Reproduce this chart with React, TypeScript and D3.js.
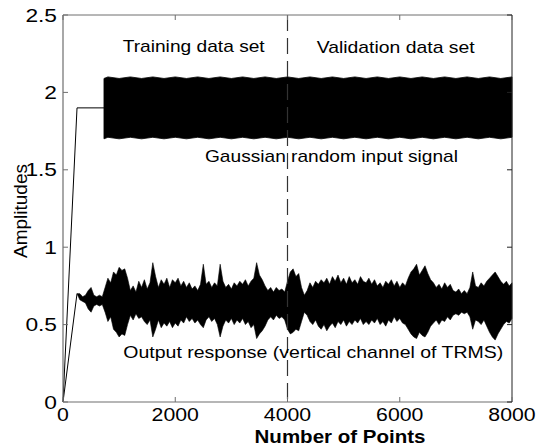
import React from 'react';
import * as d3 from 'd3';

// ---- Data ----
const X_TICKS = [0, 2000, 4000, 6000, 8000];
const Y_TICKS = [0, 0.5, 1, 1.5, 2, 2.5];
const X_TICK_LABELS = ['0', '2000', '4000', '6000', '8000'];
const Y_TICK_LABELS = ['0', '0.5', '1', '1.5', '2', '2.5'];

// Input signal: ramp, hold, then dense random band (upper / lower envelope)
const INPUT_RAMP_X = [0, 250, 730];
const INPUT_RAMP_Y = [0, 1.9, 1.9];
const INPUT_BAND_X = [730, 800, 1000, 1200, 1400, 1600, 1800, 2000, 2200, 2400, 2600, 2800, 3000, 3200, 3400, 3600, 3800, 4000, 4200, 4400, 4600, 4800, 5000, 5200, 5400, 5600, 5800, 6000, 6200, 6400, 6600, 6800, 7000, 7200, 7400, 7600, 7800, 8000];
const INPUT_UPPER = [2.09, 2.1, 2.09, 2.1, 2.09, 2.1, 2.09, 2.1, 2.09, 2.1, 2.09, 2.1, 2.09, 2.1, 2.09, 2.1, 2.09, 2.1, 2.09, 2.1, 2.09, 2.1, 2.09, 2.1, 2.09, 2.1, 2.09, 2.1, 2.09, 2.1, 2.09, 2.1, 2.09, 2.1, 2.09, 2.1, 2.09, 2.1];
const INPUT_LOWER = [1.7, 1.71, 1.7, 1.71, 1.7, 1.71, 1.7, 1.71, 1.7, 1.71, 1.7, 1.71, 1.7, 1.71, 1.7, 1.71, 1.7, 1.71, 1.7, 1.71, 1.7, 1.71, 1.7, 1.71, 1.7, 1.71, 1.7, 1.71, 1.7, 1.71, 1.7, 1.71, 1.7, 1.71, 1.7, 1.71, 1.7, 1.71];

// Output response: ramp then oscillating band (upper / lower envelope)
const OUTPUT_RAMP_X = [0, 250];
const OUTPUT_RAMP_Y = [0, 0.7];
const OUTPUT_X = [
  250, 300, 350, 400, 450, 500, 550, 600, 650, 700,
  750, 800, 850, 900, 950, 1000, 1050, 1100, 1150, 1200,
  1250, 1300, 1350, 1400, 1450, 1500, 1550, 1600, 1650, 1700,
  1750, 1800, 1850, 1900, 1950, 2000, 2050, 2100, 2150, 2200,
  2250, 2300, 2350, 2400, 2450, 2500, 2550, 2600, 2650, 2700,
  2750, 2800, 2850, 2900, 2950, 3000, 3050, 3100, 3150, 3200,
  3250, 3300, 3350, 3400, 3450, 3500, 3550, 3600, 3650, 3700,
  3750, 3800, 3850, 3900, 3950, 4000, 4050, 4100, 4150, 4200,
  4250, 4300, 4350, 4400, 4450, 4500, 4550, 4600, 4650, 4700,
  4750, 4800, 4850, 4900, 4950, 5000, 5050, 5100, 5150, 5200,
  5250, 5300, 5350, 5400, 5450, 5500, 5550, 5600, 5650, 5700,
  5750, 5800, 5850, 5900, 5950, 6000, 6050, 6100, 6150, 6200,
  6250, 6300, 6350, 6400, 6450, 6500, 6550, 6600, 6650, 6700,
  6750, 6800, 6850, 6900, 6950, 7000, 7050, 7100, 7150, 7200,
  7250, 7300, 7350, 7400, 7450, 7500, 7550, 7600, 7650, 7700,
  7750, 7800, 7850, 7900, 7950, 8000,
];
const OUTPUT_UPPER = [
  0.7, 0.7, 0.68, 0.69, 0.72, 0.74, 0.69, 0.68, 0.69, 0.68,
  0.74, 0.8, 0.77, 0.84, 0.82, 0.87, 0.85, 0.86, 0.8, 0.72,
  0.75, 0.71, 0.78, 0.74, 0.79, 0.73, 0.77, 0.9, 0.81, 0.74,
  0.79, 0.76, 0.8, 0.74, 0.79, 0.77, 0.8, 0.75, 0.78, 0.74,
  0.77, 0.73, 0.75, 0.72, 0.76, 0.89, 0.76, 0.78, 0.74, 0.77,
  0.75, 0.89, 0.78, 0.74, 0.76, 0.73, 0.77, 0.75, 0.78, 0.76,
  0.79, 0.75, 0.78, 0.8, 0.9, 0.82, 0.79, 0.75, 0.72, 0.74,
  0.71, 0.74, 0.72, 0.73, 0.71, 0.78, 0.84, 0.86, 0.81, 0.83,
  0.74, 0.69, 0.72, 0.77, 0.74, 0.78, 0.76, 0.79, 0.77, 0.8,
  0.76, 0.81, 0.78, 0.82, 0.77, 0.8, 0.76, 0.81, 0.77, 0.79,
  0.76, 0.81, 0.78, 0.77, 0.8, 0.76, 0.79, 0.75, 0.77, 0.74,
  0.78, 0.76, 0.79, 0.75, 0.78, 0.74, 0.77, 0.75, 0.8, 0.84,
  0.86, 0.89, 0.82, 0.85, 0.88, 0.83, 0.79, 0.77, 0.74, 0.76,
  0.73, 0.77, 0.74, 0.76, 0.72, 0.71, 0.73, 0.7, 0.72, 0.7,
  0.74, 0.84, 0.75, 0.74, 0.77, 0.75, 0.78, 0.8, 0.82, 0.84,
  0.81, 0.78, 0.76, 0.78, 0.75, 0.77,
];
const OUTPUT_LOWER = [
  0.7, 0.66, 0.65, 0.64, 0.6, 0.58, 0.62, 0.63, 0.62, 0.63,
  0.58, 0.52, 0.55, 0.47, 0.45, 0.42, 0.44, 0.43, 0.5, 0.56,
  0.53, 0.57, 0.54, 0.55, 0.52, 0.5, 0.53, 0.42, 0.47, 0.53,
  0.48, 0.51, 0.49, 0.52, 0.48, 0.51, 0.49, 0.53, 0.51, 0.55,
  0.52, 0.54, 0.51, 0.53, 0.5, 0.48, 0.53, 0.55, 0.52, 0.54,
  0.5, 0.42, 0.49, 0.53, 0.51, 0.54, 0.5, 0.53, 0.51, 0.54,
  0.5, 0.52, 0.48, 0.5, 0.41, 0.44, 0.46, 0.49, 0.53, 0.55,
  0.53, 0.56, 0.54, 0.55, 0.53, 0.47, 0.44, 0.45, 0.47, 0.46,
  0.52, 0.58, 0.56, 0.52, 0.5, 0.53, 0.49, 0.47, 0.5, 0.46,
  0.49, 0.51, 0.48, 0.52, 0.5, 0.53, 0.49, 0.52, 0.5, 0.53,
  0.51, 0.54, 0.5, 0.52, 0.5, 0.53, 0.51, 0.54, 0.5, 0.52,
  0.49, 0.53, 0.51, 0.55, 0.52, 0.54, 0.51, 0.5, 0.47, 0.44,
  0.42, 0.41, 0.45, 0.43, 0.42, 0.45, 0.49, 0.51, 0.53, 0.5,
  0.53, 0.52, 0.55, 0.53, 0.56, 0.57, 0.56, 0.58, 0.57, 0.58,
  0.55, 0.47, 0.53, 0.52, 0.5, 0.53, 0.49, 0.45, 0.42, 0.4,
  0.44, 0.47, 0.5, 0.52, 0.51, 0.54,
];

const SPLIT_X = 4000;

const FONT = '"Liberation Sans", Arial, Helvetica, sans-serif';

export default function App() {
  const W = 550;
  const H = 446;
  const left = 63, right = 512, top = 15, bottom = 402;

  const x = d3.scaleLinear().domain([0, 8000]).range([left, right]);
  const y = d3.scaleLinear().domain([0, 2.5]).range([bottom, top]);

  const line = d3.line<[number, number]>().x((d) => x(d[0])).y((d) => y(d[1]));
  const area = d3
    .area<[number, number, number]>()
    .x((d) => x(d[0]))
    .y0((d) => y(d[2]))
    .y1((d) => y(d[1]));

  const inRamp = line(INPUT_RAMP_X.map((v, i) => [v, INPUT_RAMP_Y[i]]));
  const inBand = area(INPUT_BAND_X.map((v, i) => [v, INPUT_UPPER[i], INPUT_LOWER[i]]));
  const outRamp = line(OUTPUT_RAMP_X.map((v, i) => [v, OUTPUT_RAMP_Y[i]]));
  const outBand = area(OUTPUT_X.map((v, i) => [v, OUTPUT_UPPER[i], OUTPUT_LOWER[i]]));

  const axisGray = '#6e6e6e';
  const tickLen = 5;

  return (
    <svg
      width={W}
      height={H}
      style={{ position: 'absolute', left: 0, top: 0, background: '#fff' }}
      fontFamily={FONT}
    >
      <rect x={0} y={0} width={W} height={H} fill="#fff" />

      {/* signals */}
      <path d={inRamp || ''} fill="none" stroke="#000" strokeWidth={1} />
      <path d={inBand || ''} fill="#000" stroke="#000" strokeWidth={0.8} />
      <path d={outRamp || ''} fill="none" stroke="#000" strokeWidth={1} />
      <path d={outBand || ''} fill="#000" stroke="#000" strokeWidth={0.6} />

      {/* split line */}
      <line
        x1={x(SPLIT_X)}
        x2={x(SPLIT_X)}
        y1={y(2.5)}
        y2={y(0)}
        stroke="#333"
        strokeWidth={1.2}
        strokeDasharray="16,7"
      />

      {/* frame */}
      <line x1={left} x2={right} y1={top} y2={top} stroke={axisGray} strokeWidth={1} />
      <line x1={left} x2={right} y1={bottom} y2={bottom} stroke={axisGray} strokeWidth={1.2} />
      <line x1={left} x2={left} y1={top} y2={bottom} stroke={axisGray} strokeWidth={1.2} />
      <line x1={right} x2={right} y1={top} y2={bottom} stroke="#222" strokeWidth={1} />

      {/* ticks */}
      {X_TICKS.map((t) => (
        <g key={'xt' + t}>
          <line x1={x(t)} x2={x(t)} y1={bottom} y2={bottom - tickLen} stroke={axisGray} />
          <line x1={x(t)} x2={x(t)} y1={top} y2={top + tickLen} stroke={axisGray} />
        </g>
      ))}
      {Y_TICKS.map((t) => (
        <g key={'yt' + t}>
          <line x1={left} x2={left + tickLen} y1={y(t)} y2={y(t)} stroke={axisGray} />
          <line x1={right} x2={right - tickLen} y1={y(t)} y2={y(t)} stroke="#222" />
        </g>
      ))}

      {/* tick labels */}
      {X_TICKS.map((t, i) => (
        <g key={'xl' + t} transform={`translate(${x(t)},421) scale(1.12,1)`}>
          <text textAnchor="middle" fontSize={19} fill="#000">
            {X_TICK_LABELS[i]}
          </text>
        </g>
      ))}
      {Y_TICKS.map((t, i) => (
        <g key={'yl' + t} transform={`translate(57,${y(t) + 6.5}) scale(1.3,1)`}>
          <text textAnchor="end" fontSize={17.5} fill="#000">
            {Y_TICK_LABELS[i]}
          </text>
        </g>
      ))}

      {/* axis titles */}
      <g transform="translate(340,443) scale(1.08,1)">
        <text textAnchor="middle" fontSize={19} fontWeight="bold" fill="#000">
          Number of Points
        </text>
      </g>
      <g transform="translate(27,211) rotate(-90)">
        <text textAnchor="middle" fontSize={19} fill="#000">
          Amplitudes
        </text>
      </g>

      {/* annotations */}
      <text x={122.7} y={51.5} fontSize={17} textLength={142} lengthAdjust="spacingAndGlyphs" fill="#000">
        Training data set
      </text>
      <text x={316.7} y={52.5} fontSize={17} textLength={158} lengthAdjust="spacingAndGlyphs" fill="#000">
        Validation data set
      </text>
      <text x={205} y={161.7} fontSize={17} textLength={253} lengthAdjust="spacingAndGlyphs" fill="#000">
        Gaussian random input signal
      </text>
      <text x={123.3} y={358.3} fontSize={17} textLength={380} lengthAdjust="spacingAndGlyphs" fill="#000">
        Output response (vertical channel of TRMS)
      </text>
    </svg>
  );
}
